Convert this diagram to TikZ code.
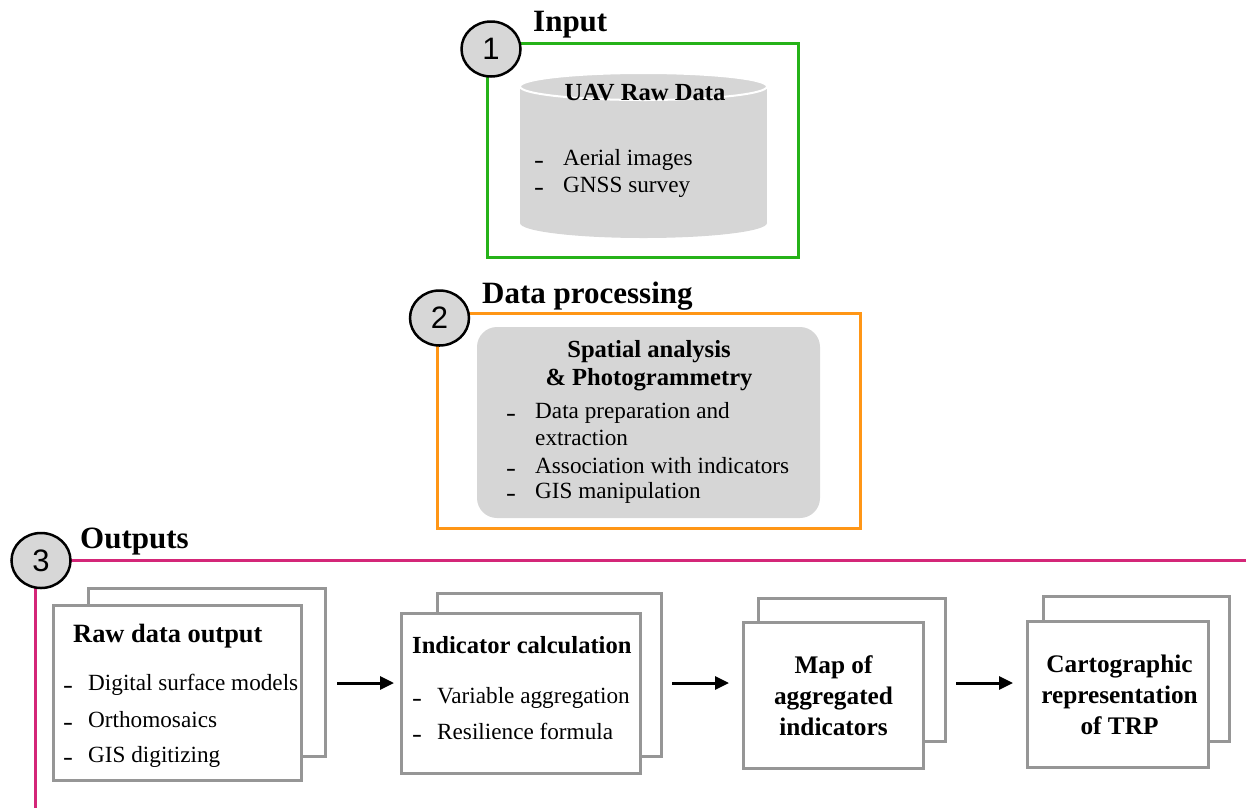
\documentclass[tikz,border=0pt]{standalone}
\usepackage{fontspec}
\usepackage{graphicx}
\setmainfont{Liberation Serif}
\newfontfamily\numfont{Liberation Sans}
\usetikzlibrary{arrows.meta,shapes.geometric,backgrounds}
\definecolor{boxgreen}{RGB}{38,178,24}
\definecolor{boxorange}{RGB}{255,150,22}
\definecolor{boxmag}{RGB}{212,38,120}
\definecolor{circgray}{RGB}{215,215,215}
\definecolor{fillgray}{RGB}{214,214,214}
\definecolor{boxgray}{RGB}{150,150,150}
\newcommand{\bulletdash}{\scalebox{1.35}[1]{-}}
\begin{document}
\begin{tikzpicture}[x=1pt,y=-1pt,
  sectitle/.style={font=\fontsize{31}{36}\selectfont\bfseries, anchor=base west, inner sep=0pt},
  headtxt/.style={font=\fontsize{24.6}{30}\selectfont\bfseries, anchor=base, inner sep=0pt},
  bighead/.style={font=\fontsize{25.3}{30}\selectfont\bfseries, anchor=base, inner sep=0pt},
  headleft/.style={font=\fontsize{24.6}{30}\selectfont\bfseries, anchor=base west, inner sep=0pt},
  bodytxt/.style={font=\fontsize{23.2}{28}\selectfont, anchor=base west, inner sep=0pt},
  dashtxt/.style={font=\fontsize{22}{24}\selectfont\bfseries, anchor=base west, inner sep=0pt},
  numcirc/.style={ellipse, draw=black, line width=2.5pt, fill=circgray, minimum width=59pt, minimum height=55pt, inner sep=0pt, font=\fontsize{31}{32}\selectfont\numfont},
  stackbox/.style 2 args={rectangle, draw=boxgray, line width=3pt, fill=white, inner sep=0pt, minimum width=#1pt, minimum height=#2pt},
  framebox/.style 2 args={rectangle, line width=3pt, inner sep=0pt, minimum width=#1pt, minimum height=#2pt},
  magline/.style={draw=boxmag, line width=3pt},
  arr/.style={line width=3pt, -{Triangle[length=14pt,width=13pt]}}
]
\useasboundingbox (0,0) rectangle (1246,807);

% ---------- 1 Input ----------
\node[framebox={311}{214}, draw=boxgreen] (inbox) at (643,150.5) {};
\fill[fillgray] (520,86.5) rectangle (767,223);
\fill[fillgray] (643.5,223) ellipse [x radius=123.5, y radius=15];
\filldraw[fill=fillgray, draw=white, line width=2pt] (643.5,86.5) ellipse [x radius=123.5, y radius=13.5];
\node[headtxt] (uav) at (645,100) {UAV Raw Data};
\node[dashtxt] (d11) at (534,167.5) {\bulletdash};
\node[bodytxt] (t11) at (563,165) {Aerial images};
\node[dashtxt] (d12) at (534,194.5) {\bulletdash};
\node[bodytxt] (t12) at (563,192) {GNSS survey};
\node[numcirc] (c1) at (491,49) {1};
\node[sectitle] (tin) at (533,31) {Input};

% ---------- 2 Data processing ----------
\node[framebox={423}{215}, draw=boxorange] (procbox) at (649,421) {};
\node[rectangle, fill=fillgray, rounded corners=20pt, minimum width=343pt, minimum height=191pt, inner sep=0pt] (spbox) at (648.5,422.5) {};
\node[headtxt] (sp1) at (649,357) {Spatial analysis};
\node[headtxt] (sp2) at (649,385) {\& Photogrammetry};
\node[dashtxt] (d21) at (506,420.5) {\bulletdash};
\node[bodytxt] (t21) at (535,418) {Data preparation and};
\node[bodytxt] (t21b) at (535,445) {extraction};
\node[dashtxt] (d22) at (506,475.5) {\bulletdash};
\node[bodytxt] (t22) at (535,473) {Association with indicators};
\node[dashtxt] (d23) at (506,500.5) {\bulletdash};
\node[bodytxt] (t23) at (535,498) {GIS manipulation};
\node[numcirc] (c2) at (439.5,318) {2};
\node[sectitle] (tproc) at (482,303) {Data processing};

% ---------- 3 Outputs ----------
\coordinate (mright) at (1250,560.5);
\coordinate (mbottom) at (35,810);
\node[numcirc] (c3) at (41,560.5) {3};
\begin{scope}[on background layer]
  \draw[magline] (c3.center) -- (mright);
  \draw[magline] (mbottom |- c3.center) -- (mbottom);
\end{scope}
\node[sectitle] (tout) at (80,548) {Outputs};

% stack 1
\node[stackbox={237}{168}] (back1) at (207,672.5) {};
\node[stackbox={248}{175}] (front1) at (177.5,693) {};
\node[headleft, font=\fontsize{26.4}{30}\selectfont\bfseries] (h1) at (73,642) {Raw data output};
\node[dashtxt] (d31) at (63,692.5) {\bulletdash};
\node[bodytxt] (t31) at (88,690) {Digital surface models};
\node[dashtxt] (d32) at (63,729.5) {\bulletdash};
\node[bodytxt] (t32) at (88,727) {Orthomosaics};
\node[dashtxt] (d33) at (63,764.5) {\bulletdash};
\node[bodytxt] (t33) at (88,762) {GIS digitizing};

% stack 2
\node[stackbox={224}{163}] (back2) at (549.5,675) {};
\node[stackbox={239}{160}] (front2) at (521,693.5) {};
\node[headleft] (h2) at (412,653) {Indicator calculation};
\node[dashtxt] (d41) at (412,705.5) {\bulletdash};
\node[bodytxt] (t41) at (437,703) {Variable aggregation};
\node[dashtxt] (d42) at (412,741.5) {\bulletdash};
\node[bodytxt] (t42) at (437,739) {Resilience formula};

% stack 3
\node[stackbox={187}{143}] (back3) at (852,670) {};
\node[stackbox={180}{146}] (front3) at (833.5,695.5) {};
\node[bighead] (m1) at (833.5,673) {Map of};
\node[bighead] (m2) at (833.5,704) {aggregated};
\node[bighead] (m3) at (833.5,735) {indicators};

% stack 4
\node[stackbox={186}{145}] (back4) at (1136.5,669) {};
\node[stackbox={181}{146}] (front4) at (1118,694.5) {};
\node[bighead] (k1) at (1119.5,672) {Cartographic};
\node[bighead] (k2) at (1119.5,703) {representation};
\node[bighead] (k3) at (1119.5,734) {of TRP};

% arrows
\coordinate (ay) at (0,683);
\draw[arr, shorten <=10pt, shorten >=6pt] (back1.east |- ay) -- (front2.west |- ay);
\draw[arr, shorten <=9pt, shorten >=13pt] (back2.east |- ay) -- (front3.west |- ay);
\draw[arr, shorten <=9pt, shorten >=13pt] (back3.east |- ay) -- (front4.west |- ay);
\end{tikzpicture}
\end{document}
